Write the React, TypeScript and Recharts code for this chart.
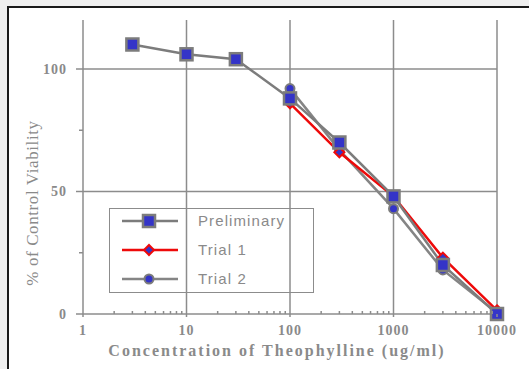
import { LineChart, Line, XAxis, YAxis, CartesianGrid } from "recharts";

// Preliminary run
const prelimConc = [3, 10, 30, 100, 300, 1000, 3000, 10000];
const prelimViability = [110, 106, 104, 88, 70, 48, 20, 0];

// Trials 1 and 2
const trialConc = [100, 300, 1000, 3000, 10000];
const trial1Viability = [86, 66, 48, 23, 1.5];
const trial2Viability = [92, 67, 43, 18, 0.5];

const xMajorTicks = [1, 10, 100, 1000, 10000];
const xMinorTicks = [
  2, 3, 4, 5, 6, 7, 8, 9, 20, 30, 40, 50, 60, 70, 80, 90, 200, 300, 400, 500,
  600, 700, 800, 900, 2000, 3000, 4000, 5000, 6000, 7000, 8000, 9000,
];
const yMajorTicks = [0, 50, 100];
const yMinorTicks = [25, 75];

const GRID = "#8c8c8c";
const TEXT = "#8a8a8a";
const BLUE = "#3434c8";
const RED = "#ee0a0a";

const prelim = prelimConc.map((x, i) => ({ x, y: prelimViability[i] }));
const trial1 = trialConc.map((x, i) => ({ x, y: trial1Viability[i] }));
const trial2 = trialConc.map((x, i) => ({ x, y: trial2Viability[i] }));

const serif = "'Liberation Serif', 'Times New Roman', serif";
const sans = "'Liberation Sans', Arial, sans-serif";

function XTick(props: any) {
  const { x, y, payload } = props;
  const major = xMajorTicks.includes(payload.value);
  return (
    <g>
      <line x1={x} x2={x} y1={y} y2={major ? y + 3 : y - 3} stroke={GRID} strokeWidth={1.5} />
      {major && (
        <text
          x={x}
          y={y + 21}
          textAnchor="middle"
          fill={TEXT}
          fontFamily={serif}
          fontWeight="bold"
          fontSize={14}
          letterSpacing={1}
        >
          {payload.value}
        </text>
      )}
    </g>
  );
}

function YTick(props: any) {
  const { x, y, payload } = props;
  const major = yMajorTicks.includes(payload.value);
  return (
    <g>
      <line x1={major ? x - 7 : x - 4} x2={x} y1={y} y2={y} stroke={GRID} strokeWidth={1.5} />
      {major && (
        <text
          x={x - 16}
          y={y}
          dy="0.35em"
          textAnchor="end"
          fill={TEXT}
          fontFamily={serif}
          fontWeight="bold"
          fontSize={14}
          letterSpacing={1}
        >
          {payload.value}
        </text>
      )}
    </g>
  );
}

const squareDot = (props: any) => {
  const { cx, cy, index } = props;
  return (
    <rect
      key={`sq-${index}`}
      x={cx - 6}
      y={cy - 6}
      width={12}
      height={12}
      fill={BLUE}
      stroke="#7c7c7c"
      strokeWidth={2.5}
    />
  );
};

const diamondDot = (props: any) => {
  const { cx, cy, index } = props;
  return (
    <path
      key={`dm-${index}`}
      d={`M${cx},${cy - 5}L${cx + 5},${cy}L${cx},${cy + 5}L${cx - 5},${cy}Z`}
      fill={BLUE}
      stroke={RED}
      strokeWidth={2}
    />
  );
};

const circleDot = (props: any) => {
  const { cx, cy, index } = props;
  return (
    <circle key={`ci-${index}`} cx={cx} cy={cy} r={4.5} fill={BLUE} stroke="#7c7c7c" strokeWidth={2} />
  );
};

function LegendRow({ label, color, marker }: { label: string; color: string; marker: string }) {
  return (
    <div style={{ display: "flex", alignItems: "center", height: 29 }}>
      <svg width={70} height={20} style={{ marginLeft: 12 }}>
        <line x1={0} x2={56} y1={10} y2={10} stroke={color} strokeWidth={2.5} />
        {marker === "square" && (
          <rect x={21} y={4} width={12} height={12} fill={BLUE} stroke="#7c7c7c" strokeWidth={2.5} />
        )}
        {marker === "diamond" && (
          <path d="M27,5L32,10L27,15L22,10Z" fill={BLUE} stroke={RED} strokeWidth={2} />
        )}
        {marker === "circle" && (
          <circle cx={27} cy={10} r={4.5} fill={BLUE} stroke="#7c7c7c" strokeWidth={2} />
        )}
      </svg>
      <span style={{ marginLeft: 6, fontFamily: sans, fontSize: 15, letterSpacing: 1.1, color: TEXT }}>
        {label}
      </span>
    </div>
  );
}

export default function App() {
  return (
    <div
      style={{
        position: "absolute",
        left: 0,
        top: 0,
        width: 529,
        height: 369,
        background: "#efefef",
        overflow: "hidden",
      }}
    >
      <div
        style={{
          position: "absolute",
          left: 7,
          top: 6,
          width: 560,
          height: 400,
          background: "#fff",
          borderLeft: "2px solid #1a1a1a",
          borderTop: "2px solid #1a1a1a",
        }}
      />
      <div style={{ position: "absolute", left: 0, top: 0 }}>
        <LineChart width={529} height={369} margin={{ top: 20, right: 32, left: 23, bottom: 25 }}>
          <CartesianGrid
            stroke={GRID}
            strokeWidth={1.5}
            horizontalValues={[50, 100]}
            verticalValues={[10, 100, 1000, 10000]}
          />
          <XAxis
            dataKey="x"
            type="number"
            scale="log"
            domain={[1, 10000]}
            ticks={[...xMajorTicks, ...xMinorTicks]}
            interval={0}
            allowDuplicatedCategory={false}
            height={30}
            tickSize={0}
            tickMargin={0}
            tickLine={false}
            tick={XTick}
            axisLine={{ stroke: GRID, strokeWidth: 1.5 }}
          />
          <YAxis
            dataKey="y"
            type="number"
            domain={[0, 120]}
            ticks={[...yMajorTicks, ...yMinorTicks]}
            interval={0}
            width={60}
            tickSize={0}
            tickMargin={0}
            tickLine={false}
            tick={YTick}
            axisLine={{ stroke: GRID, strokeWidth: 1.5 }}
          />
          <Line
            data={trial2}
            dataKey="y"
            stroke="#858585"
            strokeWidth={2.5}
            dot={circleDot}
            isAnimationActive={false}
          />
          <Line
            data={trial1}
            dataKey="y"
            stroke={RED}
            strokeWidth={2.5}
            dot={diamondDot}
            isAnimationActive={false}
          />
          <Line
            data={prelim}
            dataKey="y"
            stroke="#7c7c7c"
            strokeWidth={2.5}
            dot={squareDot}
            isAnimationActive={false}
          />
        </LineChart>
      </div>
      <div
        style={{
          position: "absolute",
          left: 109,
          top: 208,
          width: 205,
          height: 85,
          border: "1.5px solid " + GRID,
          boxSizing: "border-box",
        }}
      >
        <div style={{ marginTop: -3 }}>
          <LegendRow label="Preliminary" color="#7c7c7c" marker="square" />
          <LegendRow label="Trial 1" color={RED} marker="diamond" />
          <LegendRow label="Trial 2" color="#858585" marker="circle" />
        </div>
      </div>
      <div
        style={{
          position: "absolute",
          left: 33,
          top: 203,
          transform: "translate(-50%, -50%) rotate(-90deg)",
          whiteSpace: "nowrap",
          fontFamily: serif,
          fontSize: 17,
          letterSpacing: 0.6,
          color: TEXT,
        }}
      >
        % of Control Viability
      </div>
      <div
        style={{
          position: "absolute",
          left: 277,
          top: 343,
          transform: "translateX(-50%)",
          whiteSpace: "nowrap",
          fontFamily: serif,
          fontWeight: "bold",
          fontSize: 16,
          letterSpacing: 2,
          lineHeight: 1,
          color: TEXT,
        }}
      >
        Concentration of Theophylline (ug/ml)
      </div>
    </div>
  );
}
